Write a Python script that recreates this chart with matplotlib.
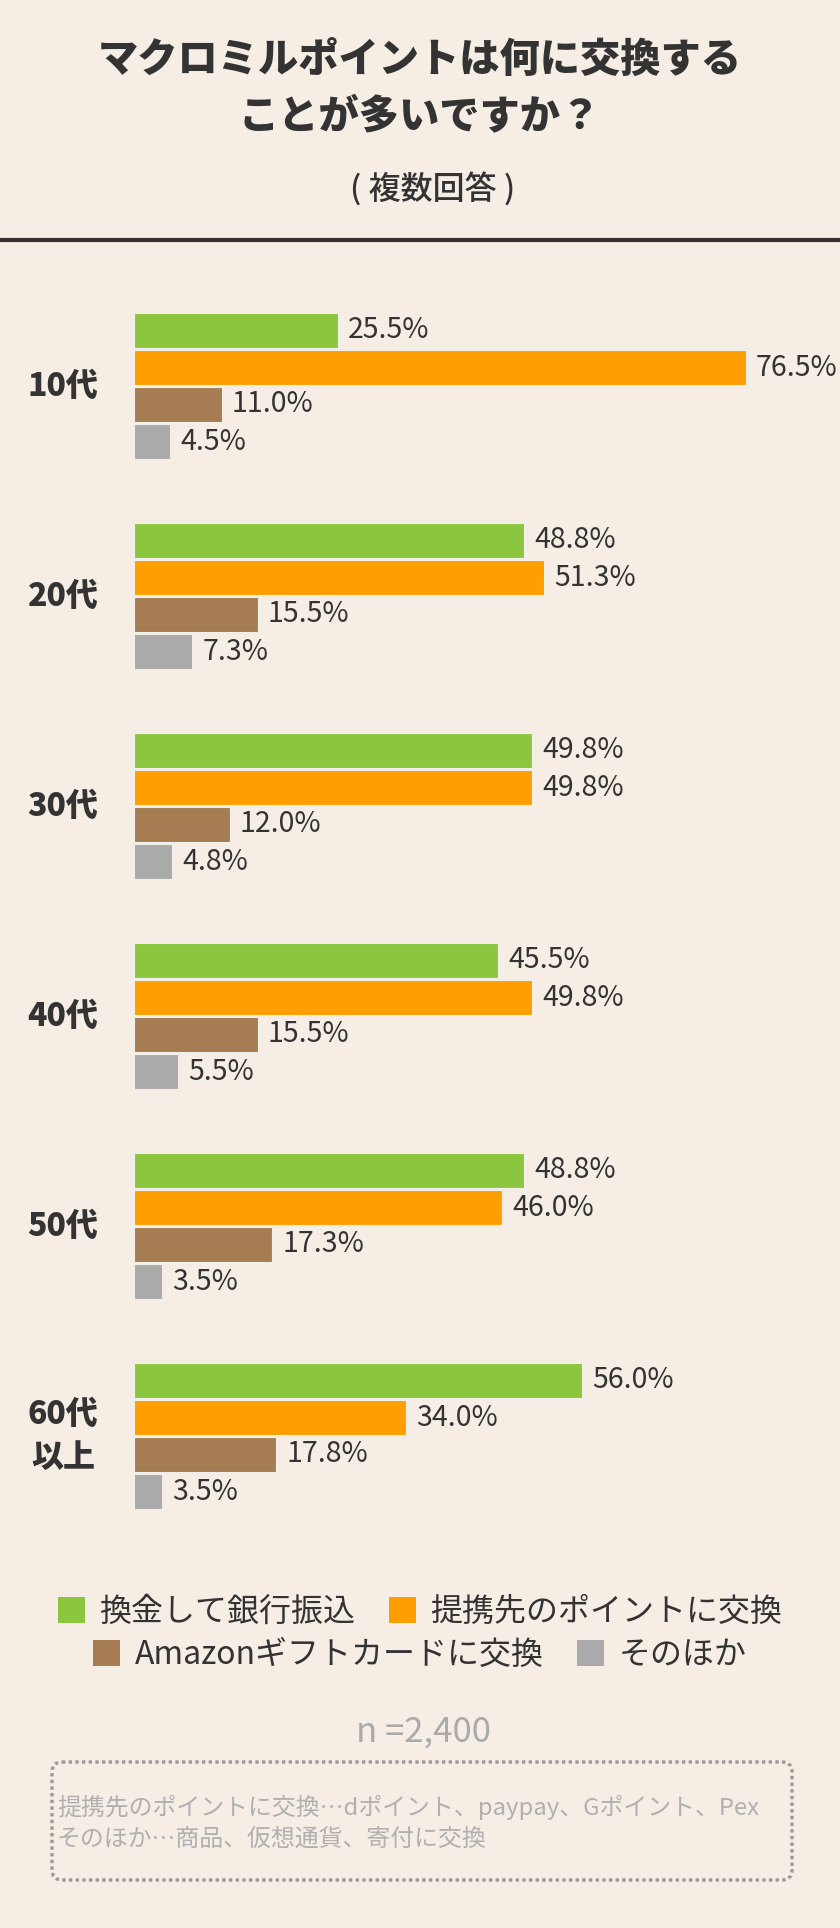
import matplotlib
matplotlib.use('Agg')
import matplotlib.pyplot as plt
from matplotlib.patches import Patch, FancyBboxPatch

plt.rcParams['font.family'] = ['Noto Sans CJK JP', 'DejaVu Sans']

#---------------- data ----------------#
ages = ['10代', '20代', '30代', '40代', '50代', '60代\n以上']
series = ['換金して銀行振込', '提携先のポイントに交換', 'Amazonギフトカードに交換', 'そのほか']
colors = ['#8cc63f', '#ff9e00', '#a67c52', '#aaaaaa']

bank = [25.5, 48.8, 49.8, 45.5, 48.8, 56.0]
partner = [76.5, 51.3, 49.8, 49.8, 46.0, 34.0]
amazon = [11.0, 15.5, 12.0, 15.5, 17.3, 17.8]
other = [4.5, 7.3, 4.8, 5.5, 3.5, 3.5]

title = 'マクロミルポイントは何に交換する\nことが多いですか？'
subtitle = '( 複数回答 )'
n_text = 'n =2,400'
notes = ['提携先のポイントに交換…dポイント、paypay、Gポイント、Pex',
         'そのほか…商品、仮想通貨、寄付に交換']

#---------------- layout ----------------#
W, H = 840, 1928
bg = '#f6ede4'
dark = '#333333'

fig = plt.figure(figsize=(W / 100, H / 100), dpi=100, facecolor=bg)

# overlay axes in pixel coordinates for decoration
deco = fig.add_axes([0, 0, 1, 1])
deco.set_xlim(0, W)
deco.set_ylim(H, 0)
deco.axis('off')
deco.patch.set_alpha(0)

deco.text(420, 88, title, ha='center', va='center', fontsize=29,
          fontweight='heavy', color=dark, linespacing=1.42)
deco.text(433, 190, subtitle, ha='center', va='center', fontsize=23,
          fontweight='medium', color=dark)
deco.plot([0, W], [240, 240], color=dark, lw=3, solid_capstyle='butt')

# bar axes
top, bottom, left = 300, 1530, 134
px_per_pct = 8.0
ax = fig.add_axes([left / W, 1 - bottom / H, (W - left) / W, (bottom - top) / H])
ax.set_xlim(0, (W - left) / px_per_pct)
ax.set_ylim(bottom - top, 0)
ax.axis('off')
ax.patch.set_alpha(0)

group_step, bar_step, bar_h, first = 210, 37, 35, 13
all_vals = [bank, partner, amazon, other]
for j, (vals, c) in enumerate(zip(all_vals, colors)):
    ys = [first + i * group_step + j * bar_step + bar_h / 2 for i in range(len(ages))]
    ax.barh(ys, vals, height=bar_h, color=c, edgecolor='#f2f0ea', linewidth=0.8)
    for y, v in zip(ys, vals):
        ax.text(v + 1.25, y, f'{v:.1f}%', va='center', ha='left', fontsize=20.5, color=dark)

for i, a in enumerate(ages):
    gy = top + first + i * group_step + (4 * bar_step - 2) / 2
    deco.text(63, gy, a, ha='center', va='center', fontsize=23, fontweight='heavy',
              color=dark, linespacing=1.35)

# legend, two centered rows
handles = [Patch(facecolor=c, edgecolor='none') for c in colors]
for row, ypix in enumerate([1612, 1655]):
    fig.legend(handles[row * 2:row * 2 + 2], series[row * 2:row * 2 + 2],
               loc='center', bbox_to_anchor=(0.5, 1 - ypix / H), ncol=2,
               frameon=False, fontsize=23, handlelength=0.85, handleheight=0.85,
               handletextpad=0.45, columnspacing=1.05, borderpad=0, labelcolor=dark)

deco.text(423, 1732, n_text, ha='center', va='center', fontsize=25, color='#aaaaaa')

box = FancyBboxPatch((52, 1762), 740, 118, boxstyle='round,pad=0,rounding_size=10',
                     facecolor='none', edgecolor='#999999', linewidth=2.4,
                     linestyle=(0, (1, 1)))
deco.add_patch(box)
for k, line in enumerate(notes):
    deco.text(57, 1807 + k * 32, line, ha='left', va='center', fontsize=17.2, color='#b0b0b0')

fig.savefig('out.png', dpi=100, facecolor=bg)
